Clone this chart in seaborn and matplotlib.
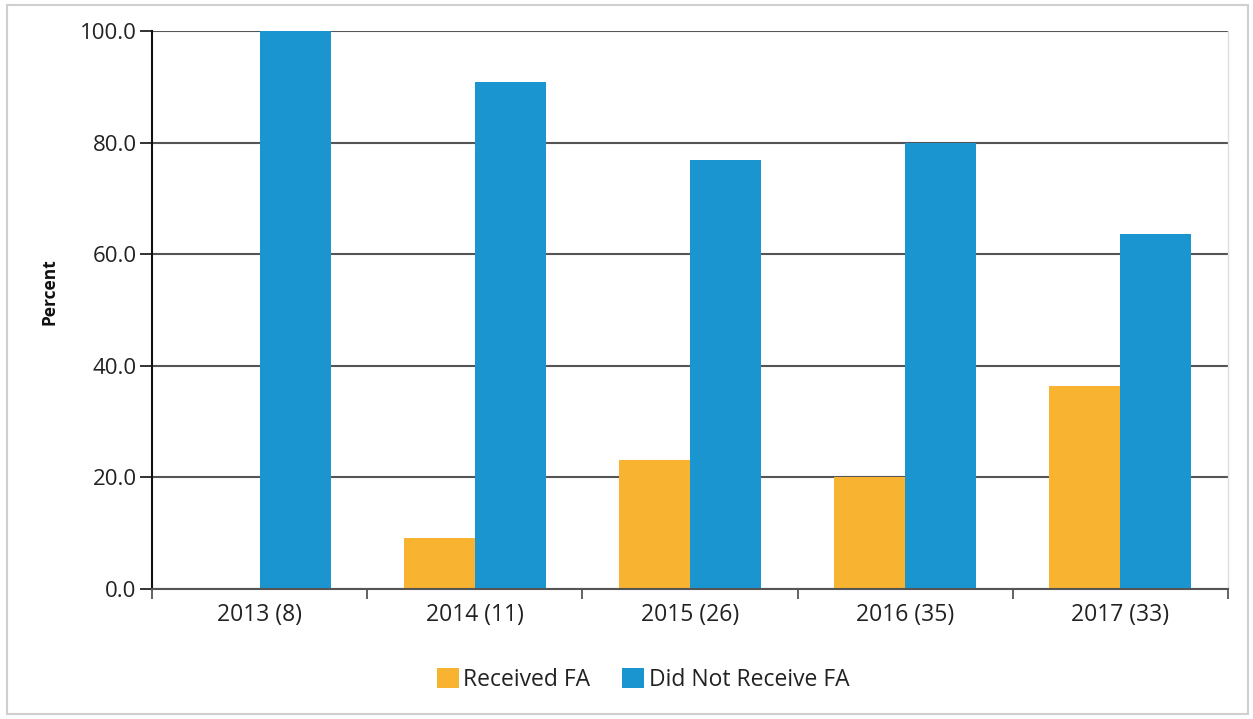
import matplotlib
matplotlib.use("Agg")
import matplotlib.pyplot as plt
import matplotlib.patches as mpatches
from matplotlib.ticker import FixedLocator, FormatStrFormatter
import seaborn as sns
import pandas as pd

categories = ["2013 (8)", "2014 (11)", "2015 (26)", "2016 (35)", "2017 (33)"]
received = [0.0, 9.1, 23.1, 20.0, 36.4]
not_received = [100.0, 90.9, 76.9, 80.0, 63.6]
series_names = ["Received FA", "Did Not Receive FA"]
colors = ["#F8B431", "#1B95CF"]

df = pd.DataFrame({
    "Year": categories * 2,
    "Percent": received + not_received,
    "Group": [series_names[0]] * len(categories) + [series_names[1]] * len(categories),
})

sns.set_theme(style="white")
plt.rcParams["font.family"] = ["Open Sans", "DejaVu Sans"]

fig = plt.figure(figsize=(12.53, 7.19), dpi=100)
ax = fig.add_axes([152 / 1253, 1 - 589 / 719, (1228 - 152) / 1253, (589 - 31) / 719])

sns.barplot(data=df, x="Year", y="Percent", hue="Group", hue_order=series_names,
            palette=colors, width=0.66, saturation=1, ax=ax, legend=False,
            edgecolor="none", linewidth=0)

ax.set_ylim(0, 100)
ax.set_xlim(-0.5, len(categories) - 0.5)
ax.yaxis.set_major_locator(FixedLocator([0, 20, 40, 60, 80, 100]))
ax.yaxis.set_major_formatter(FormatStrFormatter("%.1f"))
ax.set_axisbelow(True)
ax.yaxis.grid(True, color="#555555", linewidth=1.5)
ax.xaxis.grid(False)

ax.set_xlabel("")
ax.set_ylabel("Percent", fontsize=12.5, fontweight="bold", color="#111111")
ax.yaxis.set_label_coords(-0.087, 0.533)

ax.tick_params(axis="y", which="major", direction="out", length=9, width=1.3,
               color="#222222", labelsize=16, labelcolor="#222222", left=True, pad=2)
ax.tick_params(axis="x", which="major", length=0, labelsize=16.5, labelcolor="#222222", pad=10)
ax.xaxis.set_minor_locator(FixedLocator([i - 0.5 for i in range(len(categories) + 1)]))
ax.tick_params(axis="x", which="minor", direction="out", length=7, width=1.3,
               color="#555555", bottom=True)

ax.spines["top"].set_visible(False)
ax.spines["left"].set_color("#111111")
ax.spines["left"].set_linewidth(1.5)
ax.spines["bottom"].set_color("#555555")
ax.spines["bottom"].set_linewidth(1.5)
ax.spines["right"].set_color("#dddddd")
ax.spines["right"].set_linewidth(1.0)

handles = [mpatches.Patch(facecolor=c, edgecolor="none", label=n) for c, n in zip(colors, series_names)]
fig.legend(handles=handles, loc="center", bbox_to_anchor=(643 / 1253, 1 - 680 / 719),
           ncol=2, frameon=False, fontsize=16.5, handlelength=0.95, handleheight=0.95,
           handletextpad=0.2, columnspacing=1.4, labelcolor="#222222")

# figure frame
fig.patches.append(mpatches.Rectangle((7 / 1253, 1 - 714 / 719), (1248 - 7) / 1253, (714 - 5) / 719,
                                      transform=fig.transFigure, fill=False,
                                      edgecolor="#cfcfcf", linewidth=1.5))

fig.savefig("out.png", dpi=100, facecolor="white")
